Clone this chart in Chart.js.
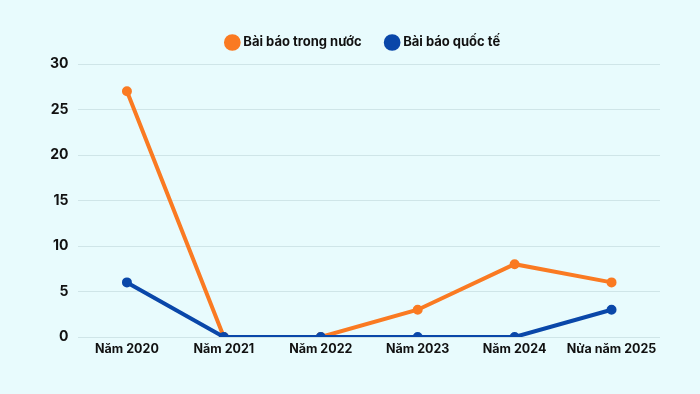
<!DOCTYPE html>
<html>
<head>
<meta charset="utf-8">
<script src="https://cdn.jsdelivr.net/npm/chart.js@4"></script>
<style>
  html, body { margin: 0; padding: 0; background: #e8fbfd; }
  #wrap { width: 700px; height: 394px; }
</style>
</head>
<body>
<div id="wrap"><canvas id="articleChart"></canvas></div>
<script>
const categories = ["Năm 2020", "Năm 2021", "Năm 2022", "Năm 2023", "Năm 2024", "Nửa năm 2025"];
const domesticArticles = [27, 0, 0, 3, 8, 6];
const internationalArticles = [6, 0, 0, 0, 0, 3];
const yTicks = [0, 5, 10, 15, 20, 25, 30];

const orange = "#fa7a22";
const blue = "#0a47a9";

// petit ajustement de la légende : un peu plus à droite, plus d'espace en dessous
const legendTweak = {
  id: 'legendTweak',
  beforeLayout(chart) {
    const lg = chart.legend;
    if (lg && !lg._patched) {
      const fit = lg.fit.bind(lg);
      lg.fit = function () { fit(); this.height += 5; };
      lg._patched = true;
    }
  },
  afterLayout(chart) {
    chart.legend.left += 14;
    chart.legend.right += 14;
  }
};

const ctx = document.getElementById('articleChart').getContext('2d');

new Chart(ctx, {
  type: 'line',
  data: {
    labels: categories,
    datasets: [
      {
        label: "Bài báo trong nước",
        data: domesticArticles,
        borderColor: orange,
        backgroundColor: orange,
        borderWidth: 4,
        pointRadius: 3,
        pointHoverRadius: 3,
        tension: 0,
        order: 1
      },
      {
        label: "Bài báo quốc tế",
        data: internationalArticles,
        borderColor: blue,
        backgroundColor: blue,
        borderWidth: 4,
        pointRadius: 3,
        pointHoverRadius: 3,
        tension: 0,
        order: 0
      }
    ]
  },
  options: {
    responsive: true,
    maintainAspectRatio: false,
    animation: false,
    layout: { padding: { left: 40, right: 40, top: 10, bottom: 32 } },
    plugins: {
      legend: {
        position: 'top',
        labels: {
          usePointStyle: true,
          pointStyle: 'circle',
          boxWidth: 9,
          boxHeight: 9,
          padding: 26,
          color: '#111111',
          font: { family: 'Inter', size: 13, weight: '700' },
          sort: (a, b) => a.datasetIndex - b.datasetIndex
        }
      },
      tooltip: { enabled: false }
    },
    scales: {
      x: {
        offset: true,
        grid: { display: false, drawTicks: false },
        border: { display: false },
        ticks: {
          color: '#111111',
          padding: 5,
          maxRotation: 0,
          autoSkip: false,
          font: { family: 'Inter', size: 12.5, weight: '700' }
        }
      },
      y: {
        min: 0,
        max: 30,
        afterBuildTicks: axis => { axis.ticks = yTicks.map(v => ({ value: v })); },
        grid: { color: '#cfe5e8', lineWidth: 1, drawTicks: false },
        border: { display: false },
        ticks: {
          color: '#111111',
          padding: 10,
          font: { family: 'Inter', size: 14, weight: '700' }
        }
      }
    }
  },
  plugins: [legendTweak]
});
</script>
</body>
</html>
